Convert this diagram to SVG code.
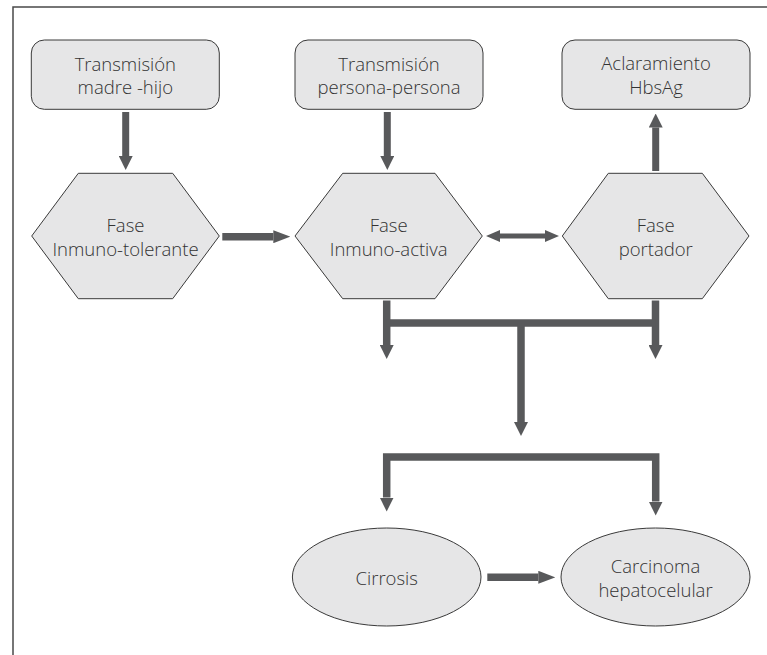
<svg xmlns="http://www.w3.org/2000/svg" width="767" height="655" viewBox="0 0 767 655">
<style>
.box{fill:#e6e6e7;stroke:#3a3a3a;stroke-width:1}
.t{font-family:"Open Sans","Liberation Sans",sans-serif;font-size:18.5px;font-weight:300;fill:#333;text-anchor:middle}
.c{fill:none;stroke:#58595b;stroke-width:7.5;stroke-linejoin:miter}
.cv{fill:none;stroke:#58595b;stroke-width:7}
.frame{fill:none;stroke:#4a4a4a;stroke-width:1.5}
</style>
<defs>
<marker id="ah" markerUnits="userSpaceOnUse" markerWidth="14" markerHeight="14" refX="0" refY="7" orient="auto-start-reverse" viewBox="0 0 14 14">
<path d="M0,0 L14,7 L0,14 z" fill="#58595b"/>
</marker>
<marker id="ahH" markerUnits="userSpaceOnUse" markerWidth="17" markerHeight="13" refX="0" refY="6.5" orient="auto-start-reverse" viewBox="0 0 17 13">
<path d="M0,0 L17,6.5 L0,13 z" fill="#58595b"/>
</marker>
<marker id="ahD" markerUnits="userSpaceOnUse" markerWidth="14" markerHeight="12" refX="0" refY="6" orient="auto-start-reverse" viewBox="0 0 14 12">
<path d="M0,0 L14,6 L0,12 z" fill="#58595b"/>
</marker>
</defs>
<path class="frame" d="M13,655 V7 H767"/>
<g id="connectors">
<path class="cv" d="M125.7,112 V156" marker-end="url(#ah)"/>
<path class="cv" d="M387.3,112 V156" marker-end="url(#ah)"/>
<path class="cv" d="M655.7,171 V127.5" marker-end="url(#ah)"/>
<path class="c" d="M222.3,236.7 H273.3" marker-end="url(#ahH)"/>
<path fill="none" stroke="#58595b" stroke-width="5" d="M500,236 H545" marker-start="url(#ahD)" marker-end="url(#ahD)"/>
<path class="c" d="M386.7,300.5 V345" marker-end="url(#ah)"/>
<path class="c" d="M655.5,300.5 V345" marker-end="url(#ah)"/>
<path class="c" d="M386.7,323 H655.5"/>
<path class="c" d="M521,323 V422" marker-end="url(#ah)"/>
<path class="c" d="M386.7,497.5 V457 H655.7 V501.5" marker-start="url(#ah)" marker-end="url(#ah)"/>
<path class="c" d="M487.3,577.3 H538.3" marker-end="url(#ahH)"/>
</g>
<g id="box-madre-hijo">
<rect class="box" x="31.3" y="40" width="188" height="69.3" rx="13"/>
<text class="t" x="125.3" y="71">Transmisión</text>
<text class="t" x="125.3" y="94">madre -hijo</text>
</g>
<g id="box-persona">
<rect class="box" x="295" y="40" width="188" height="69.3" rx="13"/>
<text class="t" x="389" y="71">Transmisión</text>
<text class="t" x="389" y="94">persona-persona</text>
</g>
<g id="box-aclaramiento">
<rect class="box" x="562" y="40" width="188" height="69.3" rx="13"/>
<text class="t" x="656" y="70">Aclaramiento</text>
<text class="t" x="656" y="94">HbsAg</text>
</g>
<g id="hex-tolerante">
<polygon class="box" points="31.7,236 78.3,173.3 172.7,173.3 219.3,236 172.7,298.7 78.3,298.7"/>
<text class="t" x="125.5" y="232">Fase</text>
<text class="t" x="125.5" y="256">Inmuno-tolerante</text>
</g>
<g id="hex-activa">
<polygon class="box" points="295,236 342.7,173.3 435,173.3 482.3,236 435,298.7 342.7,298.7"/>
<text class="t" x="388.7" y="232">Fase</text>
<text class="t" x="388.7" y="256">Inmuno-activa</text>
</g>
<g id="hex-portador">
<polygon class="box" points="562.3,236 608.3,173.3 702.3,173.3 749,236 702.3,298.7 608.3,298.7"/>
<text class="t" x="655.7" y="232">Fase</text>
<text class="t" x="655.7" y="256">portador</text>
</g>
<g id="ell-cirrosis">
<ellipse class="box" cx="386.7" cy="577" rx="94.3" ry="49"/>
<text class="t" x="386.7" y="585">Cirrosis</text>
</g>
<g id="ell-carcinoma">
<ellipse class="box" cx="655.5" cy="577" rx="94.5" ry="49"/>
<text class="t" x="655.5" y="573.3">Carcinoma</text>
<text class="t" x="655.5" y="596.7">hepatocelular</text>
</g>
</svg>
